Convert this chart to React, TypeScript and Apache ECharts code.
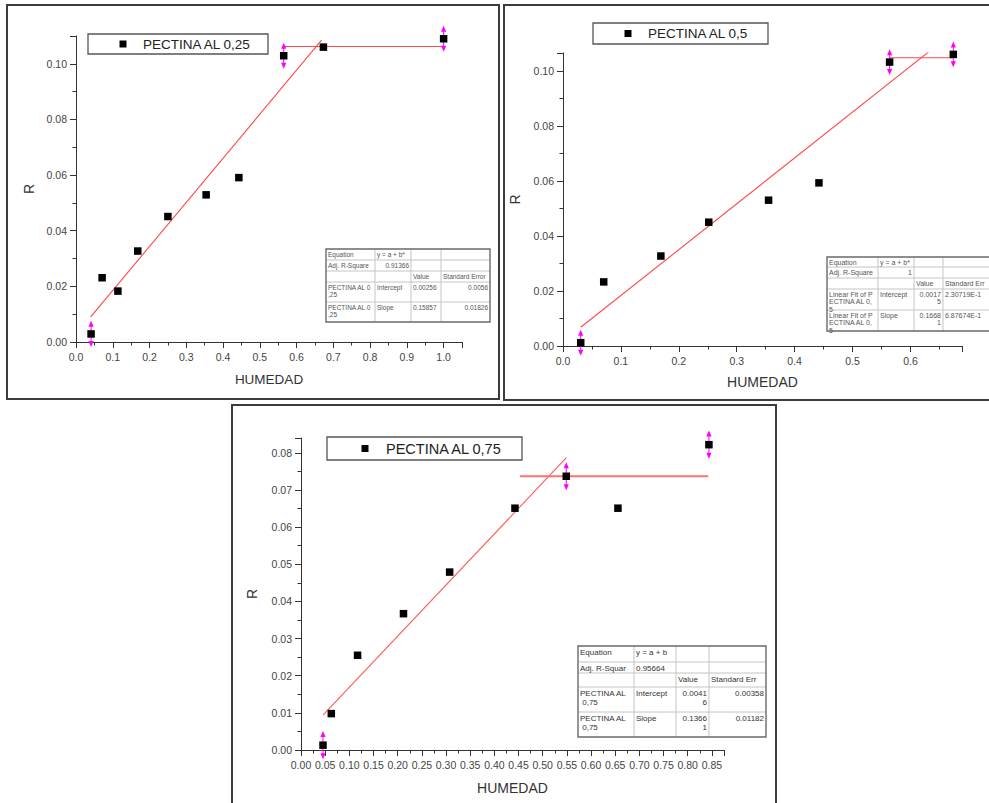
import React, { useEffect, useRef } from 'react';
import * as echarts from 'echarts';

const FONT = '"Liberation Sans", Arial, Helvetica, sans-serif';

// ---------- Panel 1: PECTINA AL 0,25 ----------
const name1 = 'PECTINA AL 0,25';
const hum1 = [0.041, 0.071, 0.114, 0.168, 0.25, 0.354, 0.443, 0.565, 0.673, 1.0];
const r1 = [0.0029, 0.0231, 0.0183, 0.0327, 0.0451, 0.0529, 0.0591, 0.1029, 0.106, 0.109];
const err1 = [0.0047, null, null, null, null, null, null, 0.0047, null, 0.0047];
const fit1X = [0.04, 0.668];
const fit1Y = [0.009, 0.1085];
const plat1X = [0.565, 1.0];
const plat1Y = [0.1062, 0.1062];

// ---------- Panel 2: PECTINA AL 0,5 ----------
const name2 = 'PECTINA AL 0,5';
const hum2 = [0.0306, 0.0703, 0.169, 0.2517, 0.355, 0.442, 0.564, 0.674];
const r2 = [0.0012, 0.0233, 0.0327, 0.045, 0.053, 0.0593, 0.1032, 0.106];
const err2 = [0.0047, null, null, null, null, null, 0.0047, 0.0047];
const fit2X = [0.0306, 0.632];
const fit2Y = [0.0068, 0.107];
const plat2X = [0.564, 0.674];
const plat2Y = [0.1048, 0.1048];

// ---------- Panel 3: PECTINA AL 0,75 ----------
const name3 = 'PECTINA AL 0,75';
const hum3 = [0.0455, 0.0627, 0.117, 0.212, 0.3075, 0.4426, 0.5487, 0.6556, 0.8438];
const r3 = [0.0013, 0.0098, 0.0255, 0.0367, 0.0479, 0.0651, 0.0737, 0.0651, 0.0822];
const err3 = [0.0038, null, null, null, null, null, 0.0038, null, 0.0038];
const fit3X = [0.0455, 0.549];
const fit3Y = [0.0094, 0.0787];
const plat3X = [0.453, 0.8425];
const plat3Y = [0.0737, 0.0737];

// ---------- Fit tables ----------
const table1 = [
  ['Equation', 'y = a + b*', '', ''],
  ['Adj. R-Square', '0.91366', '', ''],
  ['', '', 'Value', 'Standard Error'],
  ['PECTINA AL 0\n,25', 'Intercept', '0.00256', '0.0056'],
  ['PECTINA AL 0\n,25', 'Slope', '0.15857', '0.01826'],
];
const table2 = [
  ['Equation', 'y = a + b*', '', ''],
  ['Adj. R-Square', '1', '', ''],
  ['', '', 'Value', 'Standard Err'],
  ['Linear Fit of P\nECTINA AL 0,\n5', 'Intercept', '0.0017\n5', '2.30719E-1'],
  ['Linear Fit of P\nECTINA AL 0,\n5', 'Slope', '0.1668\n1', '6.87674E-1'],
];
const table3 = [
  ['Equation', 'y = a + b', '', ''],
  ['Adj. R-Squar', '0.95664', '', ''],
  ['', '', 'Value', 'Standard Err'],
  ['PECTINA AL\n 0,75', 'Intercept', '0.0041\n6', '0.00358'],
  ['PECTINA AL\n 0,75', 'Slope', '0.1366\n1', '0.01182'],
];

const isMultiple = (v: number, step: number) => Math.abs(v / step - Math.round(v / step)) < 1e-6;

function valueAxis(gridIndex: number, min: number, max: number, interval: number, decimals: number, name: string, nameGap: number, nameSize: number) {
  return {
    type: 'value',
    gridIndex,
    min,
    max,
    interval,
    name,
    nameLocation: 'middle',
    nameGap,
    nameTextStyle: { fontFamily: FONT, fontSize: nameSize, color: '#333' },
    axisLine: { show: true, onZero: false, lineStyle: { color: '#333', width: 1 } },
    axisTick: { show: true, inside: false, length: 6, lineStyle: { color: '#333', width: 1 } },
    minorTick: { show: true, splitNumber: 2, length: 3.5, lineStyle: { color: '#333', width: 1 } },
    splitLine: { show: false },
    minorSplitLine: { show: false },
    axisLabel: {
      color: '#444',
      fontFamily: FONT,
      fontSize: 10.5,
      margin: 9,
      formatter: (v: number) => (isMultiple(v, interval) ? v.toFixed(decimals) : ''),
    },
  };
}

function scatterSeries(name: string, xs: number[], ys: number[], idx: number) {
  return {
    type: 'scatter',
    name,
    xAxisIndex: idx,
    yAxisIndex: idx,
    symbol: 'rect',
    symbolSize: 7.5,
    itemStyle: { color: '#000', opacity: 1 },
    z: 4,
    data: xs.map((x, i) => [x, ys[i]]),
  };
}

function lineSeries(xs: number[], ys: number[], idx: number, color: string, width: number) {
  return {
    type: 'line',
    xAxisIndex: idx,
    yAxisIndex: idx,
    symbol: 'none',
    showSymbol: false,
    silent: true,
    lineStyle: { color, width },
    z: 2,
    data: xs.map((x, i) => [x, ys[i]]),
  };
}

function errorSeries(xs: number[], ys: number[], errs: (number | null)[], idx: number) {
  const data: number[][] = [];
  xs.forEach((x, i) => {
    const e = errs[i];
    if (e != null) data.push([x, ys[i], e]);
  });
  return {
    type: 'custom',
    coordinateSystem: 'cartesian2d',
    xAxisIndex: idx,
    yAxisIndex: idx,
    clip: false,
    silent: true,
    z: 3,
    encode: { x: 0, y: 1 },
    data,
    renderItem: (params: any, api: any) => {
      const x = api.value(0);
      const y = api.value(1);
      const e = api.value(2);
      const top = api.coord([x, y + e]);
      const bot = api.coord([x, y - e]);
      const cx = top[0];
      const hw = 2.6;
      const hh = 6;
      const c = '#ff00ff';
      return {
        type: 'group',
        children: [
          { type: 'line', shape: { x1: cx, y1: top[1] + hh - 1, x2: cx, y2: bot[1] - hh + 1 }, style: { stroke: c, lineWidth: 1 } },
          { type: 'polygon', shape: { points: [[cx, top[1]], [cx - hw, top[1] + hh], [cx + hw, top[1] + hh]] }, style: { fill: c } },
          { type: 'polygon', shape: { points: [[cx, bot[1]], [cx - hw, bot[1] - hh], [cx + hw, bot[1] - hh]] }, style: { fill: c } },
        ],
      };
    },
  };
}

function frame(x: number, y: number, w: number, h: number) {
  return {
    type: 'rect',
    silent: true,
    z: 1,
    shape: { x, y, width: w, height: h },
    style: { fill: 'none', stroke: '#3c3c3c', lineWidth: 2 },
  };
}

function legendBox(x: number, y: number, w: number, h: number, symX: number, textX: number, label: string, size: number) {
  const cy = y + h / 2;
  return [
    { type: 'rect', z: 10, shape: { x, y, width: w, height: h }, style: { fill: '#fff', stroke: '#555', lineWidth: 1.3 } },
    { type: 'rect', z: 11, shape: { x: symX - 3.5, y: cy - 3.5, width: 7, height: 7 }, style: { fill: '#000' } },
    {
      type: 'text',
      z: 11,
      x: textX,
      y: cy,
      style: { text: label, fill: '#222', font: `${size}px ${FONT}`, textAlign: 'left', textVerticalAlign: 'middle' },
    },
  ];
}

function fitTable(cols: number[], rows: number[], cells: string[][], fontSize: number, lineH: number, color: string, aligns: string[][]) {
  const els: any[] = [];
  const x0 = cols[0];
  const x1 = cols[cols.length - 1];
  const y0 = rows[0];
  const y1 = rows[rows.length - 1];
  els.push({ type: 'rect', z: 10, shape: { x: x0, y: y0, width: x1 - x0, height: y1 - y0 }, style: { fill: '#fff', stroke: 'none' } });
  for (let i = 1; i < rows.length - 1; i++) {
    els.push({ type: 'line', z: 11, shape: { x1: x0, y1: rows[i], x2: x1, y2: rows[i] }, style: { stroke: '#c4c4c4', lineWidth: 1 } });
  }
  for (let j = 1; j < cols.length - 1; j++) {
    els.push({ type: 'line', z: 11, shape: { x1: cols[j], y1: y0, x2: cols[j], y2: y1 }, style: { stroke: '#c4c4c4', lineWidth: 1 } });
  }
  els.push({ type: 'rect', z: 12, shape: { x: x0, y: y0, width: x1 - x0, height: y1 - y0 }, style: { fill: 'none', stroke: '#6a6a6a', lineWidth: 1.4 } });
  cells.forEach((row, r) => {
    row.forEach((txt, c) => {
      if (!txt) return;
      const al = aligns[r][c] === 'r' ? 'right' : 'left';
      const tx = al === 'right' ? cols[c + 1] - 2 : cols[c] + 2;
      els.push({
        type: 'text',
        z: 13,
        x: tx,
        y: rows[r] + 1.5,
        style: { text: txt, fill: color, font: `${fontSize}px ${FONT}`, textAlign: al, textVerticalAlign: 'top', lineHeight: lineH },
      });
    });
  });
  return els;
}

const aligns1 = [
  ['l', 'l', 'l', 'l'],
  ['l', 'r', 'l', 'l'],
  ['l', 'l', 'l', 'l'],
  ['l', 'l', 'l', 'r'],
  ['l', 'l', 'l', 'r'],
];
const aligns2 = [
  ['l', 'l', 'l', 'l'],
  ['l', 'r', 'l', 'l'],
  ['l', 'l', 'l', 'l'],
  ['l', 'l', 'r', 'l'],
  ['l', 'l', 'r', 'l'],
];
const aligns3 = [
  ['l', 'l', 'l', 'l'],
  ['l', 'l', 'l', 'l'],
  ['l', 'l', 'l', 'l'],
  ['l', 'l', 'r', 'r'],
  ['l', 'l', 'r', 'r'],
];

export default function App() {
  const ref = useRef<HTMLDivElement>(null);

  useEffect(() => {
    if (!ref.current) return;
    const chart = echarts.init(ref.current, undefined, { renderer: 'svg' });

    const graphic: any[] = [
      frame(7, 5, 492, 394),
      frame(504, 5, 500, 395),
      frame(232, 405, 544, 410),
      ...legendBox(88, 34, 180, 20, 123, 143, name1, 13.5),
      ...legendBox(593, 23, 175, 21, 628, 648, name2, 13.5),
      ...legendBox(327, 437, 195, 23, 365, 386, name3, 14.5),
      ...fitTable([326, 375, 411, 441, 490], [249, 260, 271, 282, 302, 322], table1, 6.5, 7.5, '#555', aligns1),
      ...fitTable([827, 878, 914, 943, 1010], [257, 267, 278, 289, 310, 331], table2, 7, 7.5, '#555', aligns2),
      ...fitTable([578, 634, 676, 709, 766], [646, 662, 673, 687, 712, 737], table3, 8, 9.5, '#333', aligns3),
    ];

    const option: any = {
      animation: false,
      backgroundColor: '#fff',
      textStyle: { fontFamily: FONT },
      grid: [
        { left: 76, top: 36, width: 386, height: 306, containLabel: false, outerBoundsMode: 'none' },
        { left: 563, top: 53, width: 399, height: 293, containLabel: false, outerBoundsMode: 'none' },
        { left: 301, top: 438, width: 423, height: 312, containLabel: false, outerBoundsMode: 'none' },
      ],
      xAxis: [
        valueAxis(0, 0, 1.05, 0.1, 1, 'HUMEDAD', 30, 13.5),
        valueAxis(1, 0, 0.689, 0.1, 1, 'HUMEDAD', 29, 14),
        valueAxis(2, 0, 0.875, 0.05, 2, 'HUMEDAD', 31, 14),
      ],
      yAxis: [
        valueAxis(0, 0, 0.11, 0.02, 2, 'R', 40, 14),
        valueAxis(1, 0, 0.1065, 0.02, 2, 'R', 41, 14),
        valueAxis(2, 0, 0.084, 0.01, 2, 'R', 42, 14),
      ],
      series: [
        lineSeries(fit1X, fit1Y, 0, '#ff4848', 1.1),
        lineSeries(plat1X, plat1Y, 0, '#ff4848', 1.1),
        errorSeries(hum1, r1, err1, 0),
        scatterSeries(name1, hum1, r1, 0),
        lineSeries(fit2X, fit2Y, 1, '#ff4848', 1.1),
        lineSeries(plat2X, plat2Y, 1, '#ff4848', 1.1),
        errorSeries(hum2, r2, err2, 1),
        scatterSeries(name2, hum2, r2, 1),
        lineSeries(fit3X, fit3Y, 2, '#ff5a5a', 1.1),
        lineSeries(plat3X, plat3Y, 2, '#ff7070', 2),
        errorSeries(hum3, r3, err3, 2),
        scatterSeries(name3, hum3, r3, 2),
      ],
      graphic,
    };

    chart.setOption(option);
    return () => chart.dispose();
  }, []);

  return <div ref={ref} style={{ position: 'absolute', left: 0, top: 0, width: 989, height: 803 }} />;
}
